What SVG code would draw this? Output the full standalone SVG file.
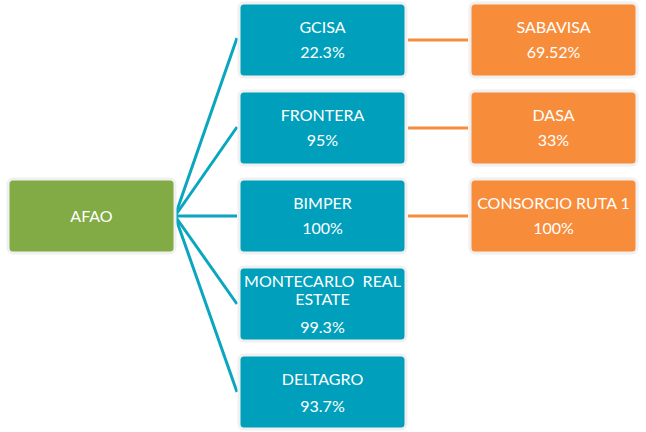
<svg xmlns="http://www.w3.org/2000/svg" width="646" height="432" viewBox="0 0 646 432">
<style>
.box{stroke:#f0f0f0;stroke-width:3}
.blue{fill:#00A0BC}
.green{fill:#82AB46}
.orange{fill:#F78D3A}
text{font-family:Lato,"Liberation Sans",sans-serif;font-size:16px;fill:#ffffff;text-anchor:middle}
.cb{stroke:#0AA6C0;stroke-width:3;fill:none}
.co{stroke:#F78D3A;stroke-width:3;fill:none}
</style>
<rect width="646" height="432" fill="#ffffff"/>
<g id="connectors">
<line class="cb" x1="175" y1="216" x2="237" y2="38"/>
<line class="cb" x1="175" y1="216" x2="237" y2="127"/>
<line class="cb" x1="175" y1="216" x2="237" y2="216"/>
<line class="cb" x1="175" y1="216" x2="237" y2="304"/>
<line class="cb" x1="175" y1="216" x2="237" y2="392"/>
<line class="co" x1="408" y1="40" x2="468" y2="40"/>
<line class="co" x1="408" y1="128" x2="468" y2="128"/>
<line class="co" x1="408" y1="216" x2="468" y2="216"/>
</g>
<g id="afao"><rect class="box green" x="8" y="179" width="167" height="74" rx="5"/><text x="91.5" y="222">AFAO</text></g>
<g id="gcisa"><rect class="box blue" x="239" y="3" width="167" height="74" rx="5"/><text x="322.5" y="33">GCISA</text><text x="322.5" y="58">22.3%</text></g>
<g id="frontera"><rect class="box blue" x="239" y="91" width="167" height="74" rx="5"/><text x="322.5" y="121">FRONTERA</text><text x="322.5" y="146">95%</text></g>
<g id="bimper"><rect class="box blue" x="239" y="179" width="167" height="74" rx="5"/><text x="322.5" y="209">BIMPER</text><text x="322.5" y="234">100%</text></g>
<g id="montecarlo"><rect class="box blue" x="239" y="267" width="167" height="74" rx="5"/><text x="322.5" y="287" xml:space="preserve">MONTECARLO  REAL</text><text x="322.5" y="305">ESTATE</text><text x="322.5" y="333">99.3%</text></g>
<g id="deltagro"><rect class="box blue" x="239" y="355" width="167" height="74" rx="5"/><text x="322.5" y="385">DELTAGRO</text><text x="322.5" y="412">93.7%</text></g>
<g id="sabavisa"><rect class="box orange" x="470" y="3" width="167" height="74" rx="5"/><text x="553.5" y="33">SABAVISA</text><text x="553.5" y="58">69.52%</text></g>
<g id="dasa"><rect class="box orange" x="470" y="91" width="167" height="74" rx="5"/><text x="553.5" y="121">DASA</text><text x="553.5" y="146">33%</text></g>
<g id="consorcio"><rect class="box orange" x="470" y="179" width="167" height="74" rx="5"/><text x="553.5" y="209">CONSORCIO RUTA 1</text><text x="553.5" y="234">100%</text></g>
</svg>
